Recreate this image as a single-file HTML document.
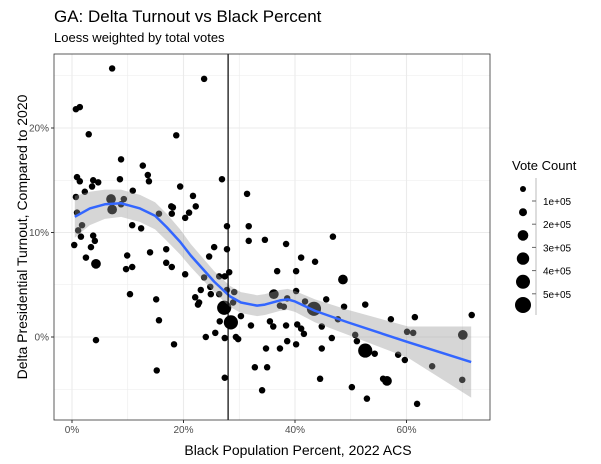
<!DOCTYPE html>
<html><head><meta charset="utf-8"><style>
body{margin:0;background:#fff;}
svg{display:block;font-family:"Liberation Sans",Arial,sans-serif;}
</style></head><body>
<svg id="c" width="601" height="464" viewBox="0 0 601 464">
<text x="54" y="22" font-size="17" fill="#000">GA: Delta Turnout vs Black Percent</text>
<text x="54" y="42" font-size="13" fill="#000">Loess weighted by total votes</text>
<text x="298" y="455" font-size="14" text-anchor="middle" fill="#000">Black Population Percent, 2022 ACS</text>
<text transform="translate(27,237) rotate(-90)" font-size="14" text-anchor="middle" fill="#000">Delta Presidential Turnout, Compared to 2020</text>
<g id="grid"></g><g id="pts"></g><g id="fit"></g><g id="axes"></g>
<g id="legend">
<text x="512" y="170" font-size="13">Vote Count</text>
</g>
</svg>
<script>
const xs=[7.2,23.7,0.7,1.4,3.0,18.7,8.8,12.7,13.6,13.8,0.9,1.4,3.8,4.7,8.6,26.9,19.4,3.6,2.3,10.9,21.7,31.4,0.7,7.0,9.3,8.8,7.2,17.8,18.1,22.2,15.6,17.9,21.0,20.3,0.9,1.8,10.8,12.4,27.8,31.7,
1.1,1.6,3.8,4.1,0.4,3.4,2.5,4.3,9.9,14.0,16.9,27.8,25.5,31.7,34.6,24.6,9.7,10.8,16.9,17.9,20.3,23.7,26.4,27.4,28.2,24.8,23.1,22.1,24.9,26.4,27.8,29.1,10.4,15.1,22.8,22.6,27.3,28.5,28.9,30.3,26.5,32.1,15.6,25.7,24.0,27.4,29.4,29.8,4.3,18.3,34.8,32.8,35.0,15.2,27.4,34.1,
38.4,46.8,41.1,43.6,36.8,40.2,48.6,36.2,40.2,37.3,38.0,38.6,41.8,43.4,45.6,48.8,52.6,47.7,35.5,36.1,38.4,40.4,41.1,41.6,44.8,46.6,50.8,51.1,38.6,40.2,37.3,44.8,52.6,54.3,58.5,59.7,57.2,61.5,60.1,61.2,70.1,71.7,64.6,70.0,55.8,56.5,44.5,50.2,52.9,61.9];
const ys=[25.7,24.7,21.8,22.0,19.4,19.3,17.0,16.4,15.5,14.9,15.3,14.9,15.0,14.8,15.1,15.1,14.4,14.4,13.9,14.0,13.5,13.7,13.4,13.2,13.2,12.7,12.2,12.5,12.4,12.5,11.8,11.8,11.9,11.4,11.9,10.7,10.7,10.4,10.6,10.6,
10.2,9.6,9.7,9.2,8.8,8.6,7.6,7.0,7.8,8.1,8.4,8.4,8.6,9.2,9.3,7.7,6.5,6.7,7.1,6.7,6.0,5.7,5.8,5.8,6.2,4.8,4.5,3.8,4.1,4.1,4.5,4.3,4.1,3.6,3.3,3.1,2.8,1.4,3.3,2.0,1.5,1.1,1.6,0.4,0.0,-0.1,0.0,-0.2,-0.3,-0.7,-1.1,-2.9,-2.9,-3.2,-3.9,-5.1,
8.9,9.6,7.6,7.2,6.3,6.3,5.5,4.1,4.4,3.0,2.9,3.7,3.4,2.7,3.6,2.9,3.1,1.7,1.5,1.0,1.1,1.2,0.8,0.3,1.0,-0.1,0.2,-0.4,-0.4,-0.7,-1.1,-1.1,-1.3,-1.6,-1.7,-2.2,1.7,1.9,0.5,0.4,0.2,2.1,-2.8,-4.1,-4.0,-4.2,-4.0,-4.8,-5.9,-6.4];
const votes=xs.map(()=>35000);
const medium=[23,26,47,102,103,141,136];const large=[76,77,109,128];
medium.forEach(i=>votes[i]=150000);large.forEach(i=>votes[i]=380000);
const fitX=[0.5,3.2,5.9,8.8,12.2,14.9,17.0,19.4,21.3,25.5,28.3,30.3,33.2,34.6,37.3,38.7,40,43.6,49.5,60.3,71.6];
const fitY=[11.5,12.3,12.7,12.8,12.3,11.6,10.5,9.1,7.8,5.3,3.9,3.3,3.0,3.1,3.5,3.6,3.4,2.5,1.4,-0.5,-2.4];
const fitSe=[2.0,1.6,1.4,1.3,1.3,1.3,1.3,1.2,1.1,1.0,1.0,1.0,1.0,1.0,1.0,1.0,1.0,1.1,1.2,1.5,3.4];
const xTicks=[0,20,40,60];const yTicks=[0,10,20];
const legendVals=[0,100000,200000,300000,400000,500000];const legendLabels=["1e+05","2e+05","3e+05","4e+05","5e+05"];
const vline=28;
const L=54,R=490,T=54,B=420;
const sx=v=>72+v*5.575, sy=v=>337-v*10.45;
const rr=v=>Math.sqrt(6.5+v/500000*(64-6.5));
const NS="http://www.w3.org/2000/svg";
function mk(p,t,a){const e=document.createElementNS(NS,t);for(const k in a)e.setAttribute(k,a[k]);document.getElementById(p).appendChild(e);return e;}
let e=mk('grid','rect',{x:L,y:T,width:R-L,height:B-T,fill:'#fff'});


for(let v=-5;v<=25;v+=5){e=mk('grid','line',{x1:L,x2:R,y1:sy(v),y2:sy(v),stroke:'#ebebeb','stroke-width':v%10===0?1.1:0.6});

}
for(let v=0;v<=70;v+=10){e=mk('grid','line',{x1:sx(v),x2:sx(v),y1:T,y2:B,stroke:'#ebebeb','stroke-width':v%20===0?1.1:0.6});

}
xs.forEach((x,i)=>{e=mk('pts','circle',{cx:sx(x),cy:sy(ys[i]),r:rr(votes[i]),fill:'#000'});

});
let up=fitX.map((x,i)=>sx(x)+','+sy(fitY[i]+fitSe[i])),dn=fitX.map((x,i)=>sx(x)+','+sy(fitY[i]-fitSe[i])).reverse();
e=mk('fit','polygon',{points:up.concat(dn).join(' '),fill:'#999','fill-opacity':0.4});


e=mk('fit','polyline',{points:fitX.map((x,i)=>sx(x)+','+sy(fitY[i])).join(' '),fill:'none',stroke:'#3366FF','stroke-width':2.5,'stroke-linejoin':'round'});


e=mk('axes','line',{x1:sx(vline),x2:sx(vline),y1:T,y2:B,stroke:'#000','stroke-width':1.2});


e=mk('axes','rect',{x:L,y:T,width:R-L,height:B-T,fill:'none',stroke:'#333','stroke-width':0.8});


xTicks.forEach(v=>{mk('axes','line',{x1:sx(v),x2:sx(v),y1:B,y2:B+3,stroke:'#333'});
e=mk('axes','text',{x:sx(v),y:B+13,'font-size':10,'text-anchor':'middle',fill:'#4d4d4d'});e.textContent=v+'%';

});
yTicks.forEach(v=>{mk('axes','line',{x1:L-3,x2:L,y1:sy(v),y2:sy(v),stroke:'#333'});
e=mk('axes','text',{x:L-5,y:sy(v)+3.5,'font-size':10,'text-anchor':'end',fill:'#4d4d4d'});e.textContent=v+'%';

});
e=mk('legend','line',{x1:536,x2:536,y1:178,y2:315,stroke:'#bbb','stroke-width':1});


legendVals.forEach((v,i)=>{e=mk('legend','circle',{cx:523,cy:189+i*23.2,r:[3,4,5.3,6.2,7,8][i],fill:'#000'});

});
legendLabels.forEach((t,i)=>{mk('legend','line',{x1:532,x2:536,y1:201+i*23.2,y2:201+i*23.2,stroke:'#666'});
e=mk('legend','text',{x:543,y:205+i*23.2,'font-size':10,fill:'#000'});e.textContent=t;

});
</script>
</body></html>
